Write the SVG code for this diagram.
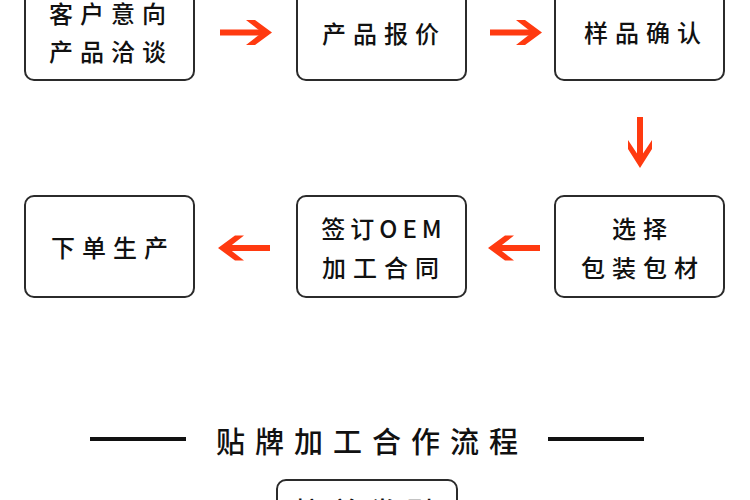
<svg xmlns="http://www.w3.org/2000/svg" width="750" height="500" viewBox="0 0 750 500">
<style>
.box{fill:#fff;stroke:#2b2b2b;stroke-width:2}
.t{font-family:"Noto Sans CJK SC","Noto Sans",sans-serif;font-size:24px;font-weight:500;fill:#111;letter-spacing:7px;text-anchor:middle;dominant-baseline:central}
.title{font-family:"Noto Sans CJK SC","Noto Sans",sans-serif;font-size:29px;font-weight:500;fill:#111;letter-spacing:10px;text-anchor:middle;dominant-baseline:central}
.ar{fill:#ff3a10}
</style>
<rect width="750" height="500" fill="#fff"/>
<g id="n1"><rect class="box" x="25" y="-22" width="169" height="102" rx="9"/><text class="t" x="111" y="12">客户意向</text><text class="t" x="111" y="50">产品洽谈</text></g>
<g id="n2"><rect class="box" x="297" y="-22" width="169" height="102" rx="9"/><text class="t" x="384" y="32">产品报价</text></g>
<g id="n3"><rect class="box" x="555" y="-22" width="169" height="102" rx="9"/><text class="t" x="646" y="31">样品确认</text></g>
<g id="n4"><rect class="box" x="555" y="196" width="169" height="101" rx="9"/><text class="t" x="643" y="227">选择</text><text class="t" x="643" y="266">包装包材</text></g>
<g id="n5"><rect class="box" x="297" y="196" width="169" height="101" rx="9"/><text class="t" x="384" y="227" style="letter-spacing:5px">签订OEM</text><text class="t" x="384" y="266">加工合同</text></g>
<g id="n6"><rect class="box" x="25" y="196" width="169" height="101" rx="9"/><text class="t" x="113" y="246">下单生产</text></g>
<g id="connectors">
<g class="ar">
<rect x="220" y="29.5" width="46" height="6"/><polygon points="246,20 255,20 272,32.5 255,45 246,45 262,32.5"/>
<rect x="490" y="29.5" width="46" height="6"/><polygon points="516,20 525,20 542,32.5 525,45 516,45 532,32.5"/>
<rect x="637" y="117" width="6" height="44"/><polygon points="628,140 628,149 640,168 652,149 652,140 640,158"/>
<rect x="224" y="245" width="46" height="6"/><polygon points="244,235.5 235,235.5 218,248 235,260.5 244,260.5 228,248"/>
<rect x="494" y="245" width="46" height="6"/><polygon points="514,235.5 505,235.5 488,248 505,260.5 514,260.5 498,248"/>
</g>
</g>
<g id="heading">
<rect x="90" y="437" width="96" height="4" fill="#111"/>
<rect x="548" y="437" width="96" height="4" fill="#111"/>
<text class="title" x="372" y="440">贴牌加工合作流程</text>
</g>
<g id="n7"><rect class="box" x="277" y="480" width="180" height="60" rx="9"/><text class="t" x="369" y="510" style="font-size:27px;letter-spacing:10px">接单类型</text></g>
</svg>
